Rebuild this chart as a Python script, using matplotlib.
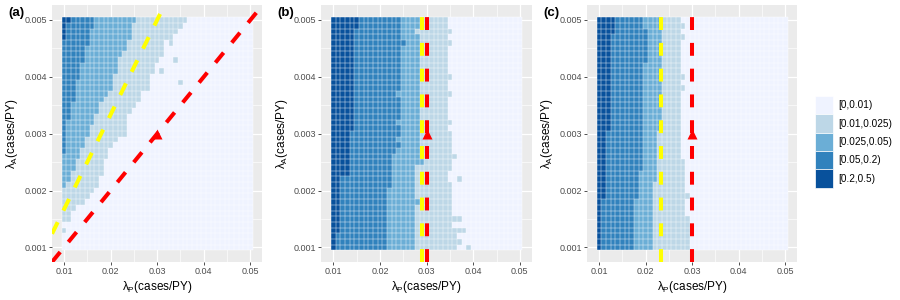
import numpy as np
import matplotlib
matplotlib.use("Agg")
import matplotlib.pyplot as plt
from matplotlib.colors import ListedColormap, BoundaryNorm
from matplotlib.patches import Patch

plt.rcParams['font.family'] = ['Liberation Sans', 'DejaVu Sans']
plt.rcParams['mathtext.fontset'] = 'custom'
plt.rcParams['mathtext.rm'] = 'Liberation Sans'

# grid of parameters
lam_p = np.round(np.arange(0.010, 0.0505, 0.001), 4)      # 41 columns
lam_a = np.round(np.arange(0.0010, 0.00505, 0.0001), 5)   # 41 rows

classes = ['[0,0.01)', '[0.01,0.025)', '[0.025,0.05)', '[0.05,0.2)', '[0.2,0.5)']
colors = ['#eff3ff', '#bdd7e7', '#6baed6', '#3182bd', '#08519c']

# per row (lam_a = 0.001 ... 0.005): number of cells from the left at or above each class
a_ge001 = [0, 0, 0, 1, 0, 2, 2, 3, 5, 6, 7, 8, 8, 9, 9, 9, 10, 10, 11, 12, 13,
           14, 14, 14, 15, 16, 17, 17, 19, 19, 19, 20, 20, 21, 22, 22, 22, 24, 25, 26, 27]
a_ge0025 = [0, 0, 0, 0, 0, 0, 0, 0, 0, 0, 0, 1, 2, 2, 3, 3, 4, 4, 5, 5, 6,
            6, 7, 7, 8, 8, 9, 10, 11, 11, 11, 12, 12, 12, 13, 14, 14, 15, 15, 15, 16]
a_ge005 = [0, 0, 0, 0, 0, 0, 0, 0, 0, 0, 0, 0, 0, 0, 0, 0, 0, 1, 1, 1, 1,
           1, 1, 2, 2, 2, 3, 3, 3, 3, 4, 4, 4, 5, 5, 5, 6, 6, 6, 7, 7]
a_ge02 = [0] * 37 + [1, 1, 1, 2]
a_extra = [(20, 13), (29, 25), (31, 21), (33, 24), (36, 23)]

b_ge001 = [27, 28, 27, 29, 26, 28, 26, 26, 26, 26, 26, 26, 25, 25, 26, 26, 27, 26, 26, 26, 26,
           25, 26, 25, 25, 25, 25, 26, 25, 25, 26, 25, 25, 25, 25, 25, 26, 25, 26, 25, 25]
b_ge0025 = [18, 18, 18, 18, 18, 18, 18, 18, 19, 18, 18, 18, 18, 18, 18, 20, 19, 19, 19, 19, 19,
            19, 19, 19, 19, 19, 19, 19, 19, 19, 19, 19, 19, 19, 19, 19, 19, 19, 18, 19, 19]
b_ge005 = [12, 12, 12, 12, 12, 12, 12, 12, 12, 12, 12, 13, 13, 13, 13, 13, 13, 14, 15, 14, 15,
           15, 14, 15, 15, 15, 15, 14, 15, 15, 15, 15, 15, 15, 15, 15, 16, 15, 15, 15, 15]
b_ge02 = [1, 1, 1, 2, 2, 2, 2, 2, 2, 2, 2, 2, 2, 4, 4, 4, 4, 4, 4, 4, 4,
          5, 5, 5, 5, 5, 5, 5, 5, 5, 5, 5, 5, 5, 5, 5, 5, 5, 5, 6, 6]
b_extra = [(0, 29), (12, 27)]

c_ge001 = [20, 20, 20, 20, 20, 20, 19, 19, 19, 20, 19, 19, 19, 19, 19, 19, 18, 18, 18, 18, 18,
           18, 18, 18, 18, 18, 18, 18, 19, 18, 19, 18, 18, 18, 18, 18, 18, 19, 18, 19, 18]
c_ge0025 = [12, 12, 12, 12, 12, 12, 12, 12, 12, 12, 12, 12, 13, 13, 13, 13, 13, 13, 13, 13, 13,
            14, 14, 14, 14, 14, 14, 14, 14, 14, 14, 14, 14, 14, 14, 14, 14, 14, 14, 14, 14]
c_ge005 = [8, 8, 8, 8, 8, 8, 8, 8, 8, 9, 9, 9, 9, 9, 10, 10, 10, 10, 10, 10, 10,
           10, 10, 10, 10, 10, 10, 10, 10, 10, 10, 10, 10, 11, 11, 11, 11, 11, 11, 10, 10]
c_ge02 = [1, 1, 1, 1, 1, 1, 1, 1, 1, 2, 2, 2, 2, 2, 2, 2, 2, 2, 2, 2, 2,
          3, 3, 3, 3, 3, 3, 3, 3, 3, 3, 3, 3, 3, 3, 3, 3, 3, 4, 4, 4]
c_extra = []

# dashed reference lines: slopes (panel a) and vertical positions (panels b, c)
a_yellow_slope, a_red_slope = 1 / 6, 1 / 10
b_yellow_x, b_red_x = 0.0291, 0.030
c_yellow_x, c_red_x = 0.0234, 0.030
point = (0.030, 0.003)


def build(ge001, ge0025, ge005, ge02, extra):
    z = np.zeros((len(lam_a), len(lam_p)))
    cols = np.arange(len(lam_p))
    for i in range(len(lam_a)):
        z[i, cols < ge001[i]] = 1
        z[i, cols < ge0025[i]] = 2
        z[i, cols < ge005[i]] = 3
        z[i, cols < ge02[i]] = 4
    for r, c in extra:
        z[r, c] = 1
    return z


panels = [build(a_ge001, a_ge0025, a_ge005, a_ge02, a_extra),
          build(b_ge001, b_ge0025, b_ge005, b_ge02, b_extra),
          build(c_ge001, c_ge0025, c_ge005, c_ge02, c_extra)]

cmap = ListedColormap(colors)
norm = BoundaryNorm([-0.5, 0.5, 1.5, 2.5, 3.5, 4.5], cmap.N)
xe = np.append(lam_p - 0.0005, lam_p[-1] + 0.0005)
ye = np.append(lam_a - 0.00005, lam_a[-1] + 0.00005)

fig = plt.figure(figsize=(9, 3), dpi=100)
lefts = [0.0578, 0.3572, 0.6523]
tags = ['(a)', '(b)', '(c)']
dash = (0, (3.2, 3.2))

for k, z in enumerate(panels):
    ax = fig.add_axes([lefts[k], 0.1267, 0.2336, 0.855])
    ax.set_facecolor('#ebebeb')
    ax.pcolormesh(xe, ye, z, cmap=cmap, norm=norm, antialiased=False, zorder=2)
    # thin white tile borders
    ax.hlines(ye, xe[0], xe[-1], color='white', lw=0.35, alpha=0.85, zorder=2.5)
    ax.vlines(xe, ye[0], ye[-1], color='white', lw=0.35, alpha=0.85, zorder=2.5)
    ax.set_xlim(0.00745, 0.05255)
    ax.set_ylim(0.000745, 0.005255)
    ax.set_xticks([0.01, 0.02, 0.03, 0.04, 0.05])
    ax.set_xticklabels(['0.01', '0.02', '0.03', '0.04', '0.05'])
    ax.set_yticks([0.001, 0.002, 0.003, 0.004, 0.005])
    ax.set_yticklabels(['0.001', '0.002', '0.003', '0.004', '0.005'])
    ax.set_xticks([0.015, 0.025, 0.035, 0.045], minor=True)
    ax.set_yticks([0.0015, 0.0025, 0.0035, 0.0045], minor=True)
    ax.grid(which='major', color='white', lw=0.9, zorder=1)
    ax.grid(which='minor', color='white', lw=0.45, zorder=1)
    ax.set_axisbelow(True)
    ax.tick_params(which='major', length=2.2, width=0.6, color='#333333',
                   labelsize=6.5, labelcolor='#4d4d4d', pad=1.5)
    ax.tick_params(which='minor', length=0)
    for s in ax.spines.values():
        s.set_visible(False)
    ax.set_xlabel('\u03bb$_{\\mathrm{P}}$(cases/PY)', fontsize=8.5, labelpad=2)
    ax.set_ylabel('\u03bb$_{\\mathrm{A}}$(cases/PY)', fontsize=8.5, labelpad=3)

    if k == 0:
        ax.axline((0, 0), slope=a_yellow_slope, color='#ffff00', lw=2.9, ls=dash, zorder=3)
        ax.axline((0, 0), slope=a_red_slope, color='#ff0000', lw=2.9, ls=dash, zorder=3)
    elif k == 1:
        ax.axvline(b_yellow_x, color='#ffff00', lw=2.9, ls=dash, zorder=3)
        ax.axvline(b_red_x, color='#ff0000', lw=2.9, ls=dash, zorder=3)
    else:
        ax.axvline(c_yellow_x, color='#ffff00', lw=2.9, ls=dash, zorder=3)
        ax.axvline(c_red_x, color='#ff0000', lw=2.9, ls=dash, zorder=3)
    ax.plot(point[0], point[1], marker='^', color='#ff0000', ms=7, mec='none', zorder=4)

    fig.text(lefts[k] - 0.049, 0.957, tags[k], fontsize=9.5, fontweight='bold', va='center')

handles = [Patch(facecolor=c, edgecolor='white', linewidth=0.5) for c in colors]
fig.legend(handles, classes, loc='center left', bbox_to_anchor=(0.905, 0.527),
           frameon=False, fontsize=7.2, handlelength=1.8, handleheight=2.45,
           labelspacing=0.0, handletextpad=0.55, borderpad=0, borderaxespad=0)

plt.savefig('out.png', dpi=100)
plt.close('all')
